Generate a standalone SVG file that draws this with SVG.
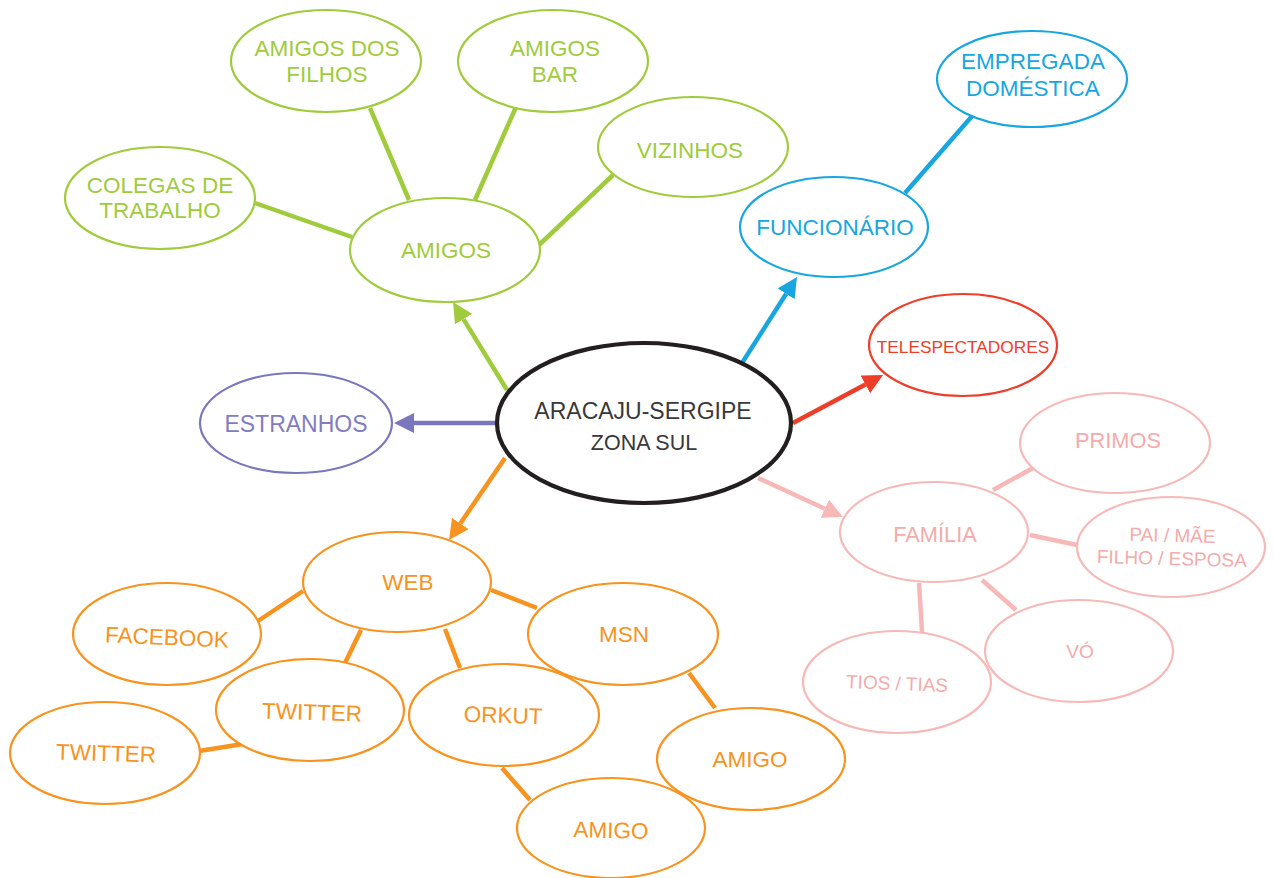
<svg xmlns="http://www.w3.org/2000/svg" width="1275" height="878" viewBox="0 0 1275 878">
  <style>
    text { font-family: "Liberation Sans", Arial, sans-serif; text-anchor: middle; }
    ellipse { fill: #ffffff; stroke-width: 2.2; }
    .center { stroke: #231f20; stroke-width: 4.2; }
    .center-t { fill: #3a3839; }
    .green { stroke: #9fcb3c; }
    .green-t { fill: #9fcb3c; font-size: 22.5px; }
    .blue { stroke: #17a6df; }
    .blue-t { fill: #17a6df; font-size: 22.5px; }
    .red { stroke: #ee3e2a; }
    .red-t { fill: #ee3e2a; font-size: 17.3px; }
    .orange { stroke: #f7931e; }
    .orange-t { fill: #f7931e; font-size: 22.5px; }
    .pink { stroke: #f6b9b8; }
    .pink-t { fill: #f4abab; font-size: 19px; }
    .pink-t.big { font-size: 21.8px; }
    .purple { stroke: #7c76bd; }
    .purple-t { fill: #827cc1; font-size: 23px; }
    .link { fill: none; stroke-width: 4.5; stroke-linecap: butt; }
  </style>
  <defs>
    <marker id="head-green" viewBox="0 -10 20 20" markerWidth="20" markerHeight="20" refX="0" refY="0" markerUnits="userSpaceOnUse" orient="auto"><path d="M0,-10 L20,0 L0,10 z" fill="#9fcb3c"/></marker>
    <marker id="head-blue" viewBox="0 -10 20 20" markerWidth="20" markerHeight="20" refX="0" refY="0" markerUnits="userSpaceOnUse" orient="auto"><path d="M0,-10 L20,0 L0,10 z" fill="#17a6df"/></marker>
    <marker id="head-red" viewBox="0 -10 20 20" markerWidth="20" markerHeight="20" refX="0" refY="0" markerUnits="userSpaceOnUse" orient="auto"><path d="M0,-10 L20,0 L0,10 z" fill="#ee3e2a"/></marker>
    <marker id="head-orange" viewBox="0 -10 20 20" markerWidth="20" markerHeight="20" refX="0" refY="0" markerUnits="userSpaceOnUse" orient="auto"><path d="M0,-10 L20,0 L0,10 z" fill="#f7931e"/></marker>
    <marker id="head-pink" viewBox="0 -10 20 20" markerWidth="20" markerHeight="20" refX="0" refY="0" markerUnits="userSpaceOnUse" orient="auto"><path d="M0,-10 L20,0 L0,10 z" fill="#f6b9b8"/></marker>
    <marker id="head-purple" viewBox="0 -10 20 20" markerWidth="20" markerHeight="20" refX="0" refY="0" markerUnits="userSpaceOnUse" orient="auto"><path d="M0,-10 L20,0 L0,10 z" fill="#7c76bd"/></marker>
  </defs>

  <rect width="1275" height="878" fill="#ffffff"/>

  <!-- connectors -->
  <g id="connectors">
    <!-- arrows from the centre -->
    <line class="link" x1="496" y1="423" x2="414" y2="423" stroke="#7c76bd" marker-end="url(#head-purple)"/>
    <line class="link" x1="507" y1="390" x2="463.5" y2="319.1" stroke="#9fcb3c" marker-end="url(#head-green)"/>
    <line class="link" x1="742" y1="363" x2="786.2" y2="293.8" stroke="#17a6df" marker-end="url(#head-blue)"/>
    <line class="link" x1="793" y1="423" x2="865.4" y2="384.4" stroke="#ee3e2a" marker-end="url(#head-red)"/>
    <line class="link" x1="505" y1="458" x2="460.3" y2="523.5" stroke="#f7931e" marker-end="url(#head-orange)"/>
    <line class="link" x1="758" y1="478" x2="824.8" y2="508.7" stroke="#f6b9b8" marker-end="url(#head-pink)"/>
    <!-- friends -->
    <line class="link" x1="255" y1="203" x2="352" y2="237" stroke="#9fcb3c"/>
    <line class="link" x1="370" y1="108" x2="409" y2="200" stroke="#9fcb3c"/>
    <line class="link" x1="516" y1="107" x2="475" y2="200" stroke="#9fcb3c"/>
    <line class="link" x1="613" y1="175" x2="539" y2="245" stroke="#9fcb3c"/>
    <!-- staff -->
    <line class="link" x1="973" y1="115" x2="905" y2="193" stroke="#17a6df"/>
    <!-- family -->
    <line class="link" x1="993" y1="490" x2="1033" y2="468" stroke="#f6b9b8"/>
    <line class="link" x1="1030" y1="535" x2="1077" y2="545" stroke="#f6b9b8"/>
    <line class="link" x1="982" y1="580" x2="1016" y2="610" stroke="#f6b9b8"/>
    <line class="link" x1="919" y1="583" x2="922" y2="632" stroke="#f6b9b8"/>
    <!-- web -->
    <line class="link" x1="258" y1="621" x2="303" y2="591" stroke="#f7931e"/>
    <line class="link" x1="361" y1="630" x2="345" y2="663" stroke="#f7931e"/>
    <line class="link" x1="199" y1="751" x2="243" y2="744" stroke="#f7931e"/>
    <line class="link" x1="491" y1="590" x2="537" y2="608" stroke="#f7931e"/>
    <line class="link" x1="445" y1="629" x2="460" y2="668" stroke="#f7931e"/>
    <line class="link" x1="689" y1="673" x2="715" y2="708" stroke="#f7931e"/>
    <line class="link" x1="502" y1="768" x2="530" y2="800" stroke="#f7931e"/>
  </g>

  <!-- centre -->
  <g id="aracaju">
    <ellipse class="center" cx="644" cy="423" rx="147" ry="80"/>
    <text class="center-t" x="643" y="419" font-size="23">ARACAJU-SERGIPE</text>
    <text class="center-t" x="644" y="450" font-size="21.5">ZONA SUL</text>
  </g>

  <g id="estranhos">
    <ellipse class="purple" cx="296" cy="423" rx="96" ry="50"/>
    <text class="purple-t" x="296" y="432">ESTRANHOS</text>
  </g>

  <!-- friends -->
  <g id="amigos">
    <ellipse class="green" cx="445" cy="250" rx="95" ry="52"/>
    <text class="green-t" x="446" y="258">AMIGOS</text>
  </g>
  <g id="colegas">
    <ellipse class="green" cx="160" cy="198" rx="95" ry="51"/>
    <text class="green-t" x="160" y="193">COLEGAS DE</text>
    <text class="green-t" x="160" y="218">TRABALHO</text>
  </g>
  <g id="amigos-filhos">
    <ellipse class="green" cx="326" cy="61" rx="95" ry="51"/>
    <text class="green-t" x="327" y="56">AMIGOS DOS</text>
    <text class="green-t" x="327" y="82">FILHOS</text>
  </g>
  <g id="amigos-bar">
    <ellipse class="green" cx="553" cy="61" rx="95" ry="51"/>
    <text class="green-t" x="555" y="56">AMIGOS</text>
    <text class="green-t" x="555" y="82">BAR</text>
  </g>
  <g id="vizinhos">
    <ellipse class="green" cx="693" cy="147" rx="95" ry="50"/>
    <text class="green-t" x="690" y="158">VIZINHOS</text>
  </g>

  <!-- staff -->
  <g id="funcionario">
    <ellipse class="blue" cx="834" cy="227" rx="94" ry="50"/>
    <text class="blue-t" x="835" y="235">FUNCIONÁRIO</text>
  </g>
  <g id="empregada">
    <ellipse class="blue" cx="1032" cy="79" rx="95" ry="48"/>
    <text class="blue-t" x="1033" y="69">EMPREGADA</text>
    <text class="blue-t" x="1033" y="96">DOMÉSTICA</text>
  </g>

  <g id="telespectadores">
    <ellipse class="red" cx="963" cy="345" rx="94" ry="51"/>
    <text class="red-t" x="963" y="353">TELESPECTADORES</text>
  </g>

  <!-- family -->
  <g id="familia">
    <ellipse class="pink" cx="934" cy="532" rx="94" ry="50"/>
    <text class="pink-t big" x="935" y="542">FAMÍLIA</text>
  </g>
  <g id="primos">
    <ellipse class="pink" cx="1115" cy="443" rx="95" ry="50"/>
    <text class="pink-t big" x="1118" y="448">PRIMOS</text>
  </g>
  <g id="pais">
    <ellipse class="pink" cx="1171" cy="547" rx="94" ry="50"/>
    <g transform="rotate(1.5 1172 553)">
      <text class="pink-t" x="1172" y="542">PAI / MÃE</text>
      <text class="pink-t" x="1172" y="565">FILHO / ESPOSA</text>
    </g>
  </g>
  <g id="vo">
    <ellipse class="pink" cx="1079" cy="651" rx="94" ry="51"/>
    <text class="pink-t" x="1080" y="658">VÓ</text>
  </g>
  <g id="tios">
    <ellipse class="pink" cx="897" cy="682" rx="94" ry="51"/>
    <text class="pink-t" x="897" y="690" transform="rotate(2.3 897 684)">TIOS / TIAS</text>
  </g>

  <!-- web -->
  <g id="web">
    <ellipse class="orange" cx="397" cy="582" rx="94" ry="50"/>
    <text class="orange-t" x="408" y="590">WEB</text>
  </g>
  <g id="facebook">
    <ellipse class="orange" cx="167" cy="634" rx="94" ry="51"/>
    <text class="orange-t" x="167" y="645" transform="rotate(2.5 167 638)">FACEBOOK</text>
  </g>
  <g id="twitter-1">
    <ellipse class="orange" cx="310" cy="710" rx="94" ry="51"/>
    <text class="orange-t" x="312" y="720" transform="rotate(1.8 312 713)">TWITTER</text>
  </g>
  <g id="twitter-2">
    <ellipse class="orange" cx="105" cy="753" rx="95" ry="51"/>
    <text class="orange-t" x="106" y="761" transform="rotate(1.8 106 754)">TWITTER</text>
  </g>
  <g id="msn">
    <ellipse class="orange" cx="623" cy="634" rx="95" ry="51"/>
    <text class="orange-t" x="624" y="642">MSN</text>
  </g>
  <g id="orkut">
    <ellipse class="orange" cx="504" cy="715" rx="95" ry="51"/>
    <text class="orange-t" x="503" y="723" transform="rotate(1.8 503 716)">ORKUT</text>
  </g>
  <g id="amigo-msn">
    <ellipse class="orange" cx="751" cy="759" rx="94" ry="51"/>
    <text class="orange-t" x="750" y="767">AMIGO</text>
  </g>
  <g id="amigo-orkut">
    <ellipse class="orange" cx="611" cy="828" rx="94" ry="50"/>
    <text class="orange-t" x="611" y="838" transform="rotate(1.5 611 831)">AMIGO</text>
  </g>
</svg>
